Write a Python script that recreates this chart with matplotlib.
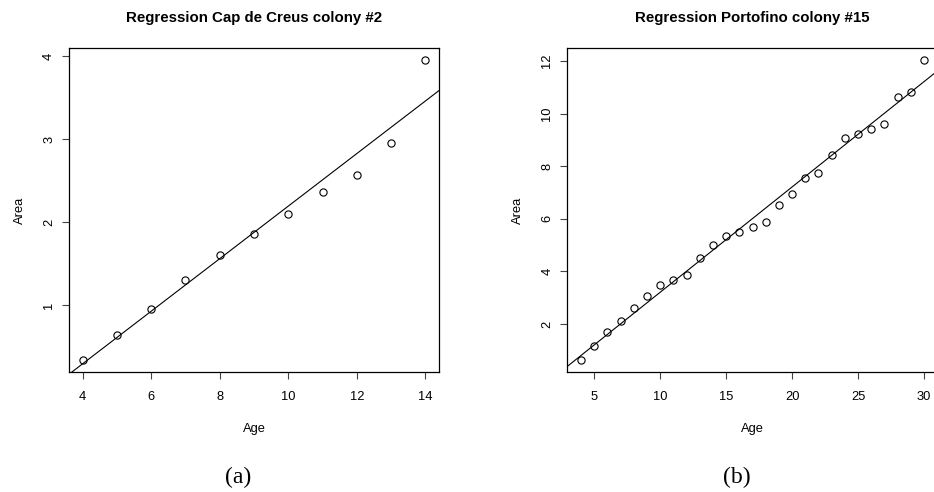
import numpy as np
import matplotlib
matplotlib.use('Agg')
import matplotlib.pyplot as plt

plt.rcParams['font.family'] = ['Liberation Sans', 'DejaVu Sans']

# Cap de Creus colony #2
age_a = [4, 5, 6, 7, 8, 9, 10, 11, 12, 13, 14]
area_a = [0.34, 0.646, 0.955, 1.30, 1.60, 1.86, 2.105, 2.365, 2.575, 2.96, 3.957]

# Portofino colony #15
age_b = list(range(4, 31))
area_b = [0.626, 1.16, 1.68, 2.10, 2.61, 3.07, 3.48, 3.67, 3.86, 4.51, 5.02, 5.35, 5.50,
          5.68, 5.87, 6.52, 6.94, 7.56, 7.75, 8.41, 9.06, 9.23, 9.42, 9.62, 10.64, 10.82, 12.04]

titles = ['Regression Cap de Creus colony #2', 'Regression Portofino colony #15']
xticks_a = [4, 6, 8, 10, 12, 14]
yticks_a = [1, 2, 3, 4]
xticks_b = [5, 10, 15, 20, 25, 30]
yticks_b = [2, 4, 6, 8, 10, 12]
captions = ['(a)', '(b)']

W, H = 934, 492
fig = plt.figure(figsize=(W / 100, H / 100), dpi=100)


def r_limits(v, frac=0.04):
    lo, hi = min(v), max(v)
    pad = (hi - lo) * frac
    return lo - pad, hi + pad


def panel(rect, x, y, title, xticks, yticks, caption):
    ax = fig.add_axes(rect)
    ax.set_xlim(r_limits(x))
    ax.set_ylim(r_limits(y))
    ax.plot(x, y, 'o', mfc='none', mec='black', ms=5.2, mew=0.8)
    # least-squares line drawn across the whole plotting region
    k, b = np.polyfit(x, y, 1)
    xl = np.array(ax.get_xlim())
    ax.plot(xl, k * xl + b, color='black', lw=0.8)
    ax.set_xticks(xticks)
    ax.set_yticks(yticks)
    ax.tick_params(direction='out', length=5, width=0.8, labelsize=9.3, color='#444444')
    ax.tick_params(axis='x', pad=9)
    ax.tick_params(axis='y', pad=5)
    for lab in ax.get_yticklabels():
        lab.set_rotation(90)
        lab.set_va('center')
    for s in ax.spines.values():
        s.set_linewidth(0.9)
    ax.set_xlabel('Age', fontsize=9.3, labelpad=14)
    ax.set_ylabel('Area', fontsize=9.3, labelpad=12.5)
    ax.set_title(title, fontsize=10.8, fontweight='bold', pad=19)
    cx = rect[0] + rect[2] / 2
    fig.text(cx - 0.017, 1 - 477 / H, caption, ha='center', va='center',
             fontsize=17, family='Liberation Serif')
    return ax


top, bottom = 48 / H, 372 / H
panel([69 / W, 1 - bottom, (439 - 69) / W, bottom - top], age_a, area_a,
      titles[0], xticks_a, yticks_a, captions[0])
panel([567.3 / W, 1 - bottom, (937.7 - 567.3) / W, bottom - top], age_b, area_b,
      titles[1], xticks_b, yticks_b, captions[1])

fig.savefig('out.png', dpi=100)
